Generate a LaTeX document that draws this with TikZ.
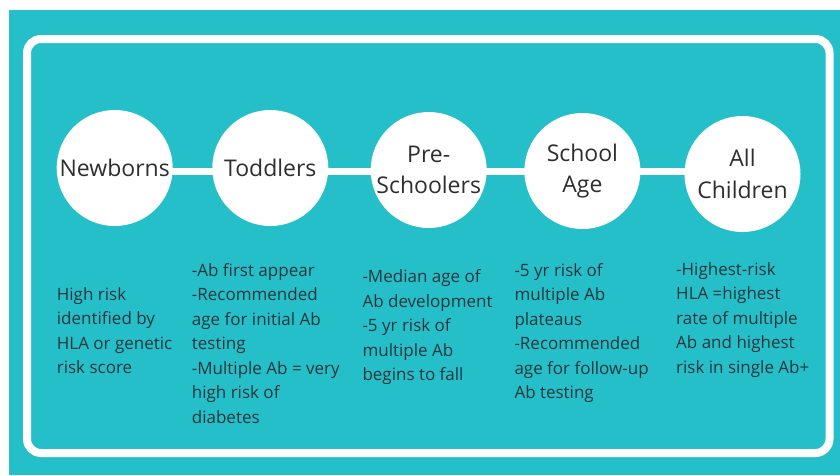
\documentclass[tikz,border=0pt]{standalone}
\usepackage{fontspec}
\setmainfont{Open Sans}
\usetikzlibrary{backgrounds}
\definecolor{lagoon}{HTML}{25BFCA}
\definecolor{ink}{HTML}{2E2E2E}
\definecolor{slate}{HTML}{25363A}

\begin{document}
\begin{tikzpicture}[x=1pt,y=-1pt,
  stage/.style={circle,fill=white,minimum size=116pt,inner sep=0pt},
  stagename/.style={font=\fontsize{23}{31.5}\selectfont,text=ink,align=center},
  link/.style={white,line width=7pt},
  note/.style={font=\fontsize{17}{24.5}\selectfont,text=slate,align=left,
    anchor=base west,inner sep=0pt}]

  \useasboundingbox (0,0) rectangle (840,475);

  % Etapes
  \foreach \n/\cx/\cy in {new/114.7/168, tod/270.3/168, pre/428.7/170, sch/582.4/171, all/742.5/174}
    \node[stage] (\n) at (\cx,\cy) {};

  % Noms des etapes
  \node[stagename] (newname) at (new) {Newborns};
  \node[stagename] (todname) at (tod) {Toddlers};
  \node[stagename] (prename) at (pre) {Pre-\\Schoolers};
  \node[stagename] (schname) at (sch) {School\\Age};
  \node[stagename] (allname) at (all) {All\\Children};

  % Notes (placees sur la ligne de base de la derniere ligne)
  \node[note] (newnote) at (56.7,373.5) {High risk\\identified by\\HLA or genetic\\risk score};
  \node[note] (todnote) at (191.7,423) {-Ab first appear\\-Recommended\\age for initial Ab\\testing\\-Multiple Ab = very\\high risk of\\diabetes};
  \node[note] (prenote) at (362.3,380.7) {-Median age of\\Ab development\\-5 yr risk of\\multiple Ab\\begins to fall};
  \node[note] (schnote) at (514.3,398.5) {-5 yr risk of\\multiple Ab\\plateaus\\-Recommended\\age for follow-up\\Ab testing};
  \node[note] (allnote) at (676,373) {-Highest-risk\\HLA =highest\\rate of multiple\\Ab and highest\\risk in single Ab+};

  \begin{scope}[on background layer]
    % Fond et cadre
    \fill[lagoon] (9,10) rectangle (840,475);
    \draw[white,line width=8pt,rounded corners=14pt] (27,39) rectangle (829.5,453);
    % Liens
    \foreach \a/\b in {new/tod,tod/pre,pre/sch,sch/all}
      \draw[link] (\a.center |- 0,171) -- (\b.center |- 0,171);
  \end{scope}

\end{tikzpicture}
\end{document}
